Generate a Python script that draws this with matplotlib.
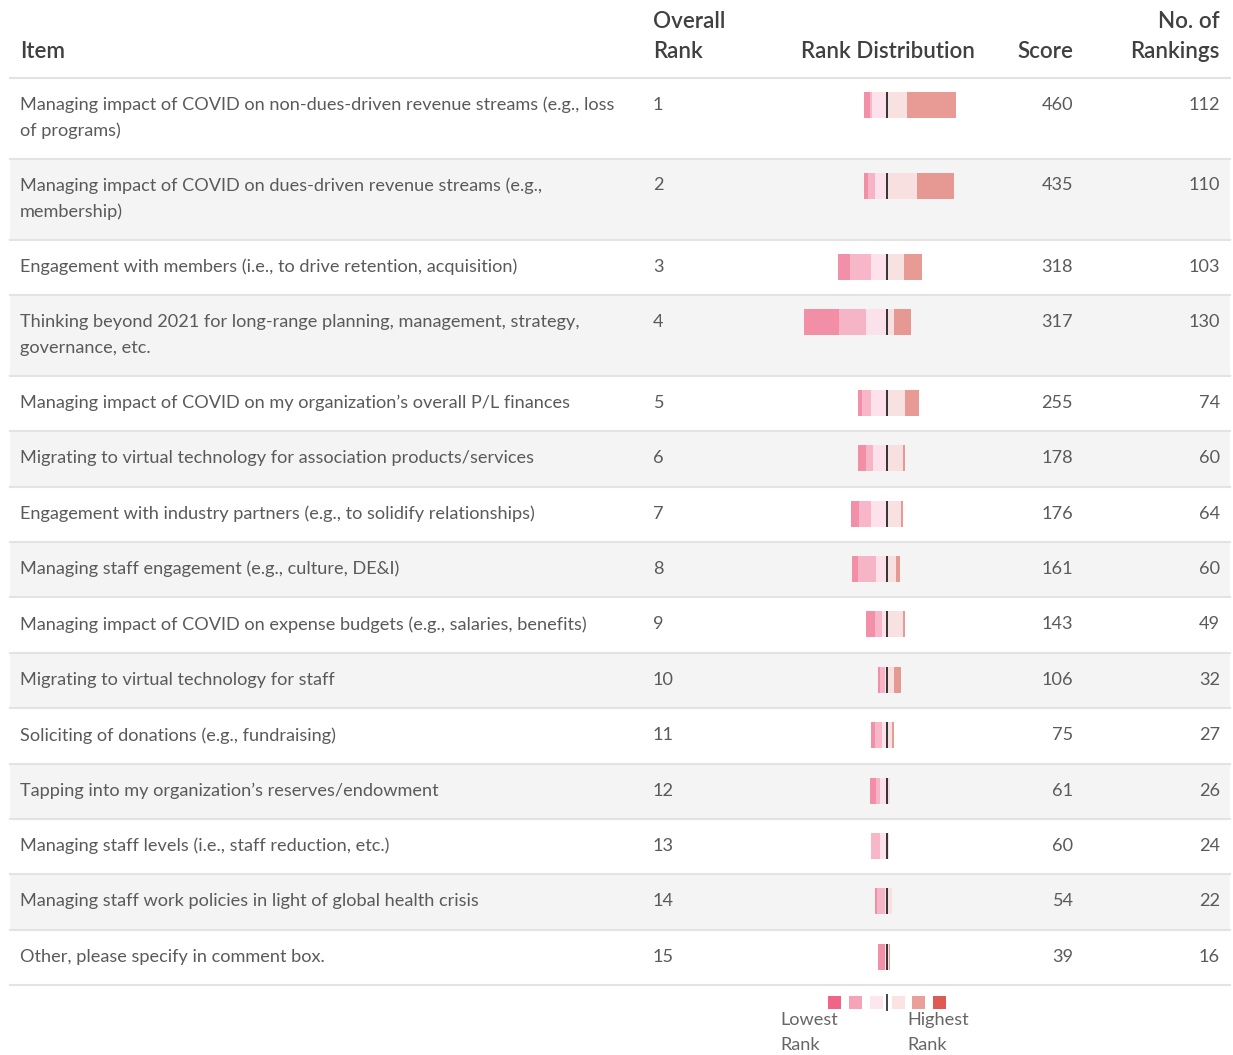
import numpy as np
import matplotlib.pyplot as plt
from matplotlib.patches import Rectangle

plt.rcParams['font.family'] = ['Lato', 'DejaVu Sans']

# Table data
items = ["Managing impact of COVID on non-dues-driven revenue streams (e.g., loss\nof programs)",
         "Managing impact of COVID on dues-driven revenue streams (e.g.,\nmembership)",
         "Engagement with members (i.e., to drive retention, acquisition)",
         "Thinking beyond 2021 for long-range planning, management, strategy,\ngovernance, etc.",
         "Managing impact of COVID on my organization\u2019s overall P/L finances",
         "Migrating to virtual technology for association products/services",
         "Engagement with industry partners (e.g., to solidify relationships)",
         "Managing staff engagement (e.g., culture, DE&I)",
         "Managing impact of COVID on expense budgets (e.g., salaries, benefits)",
         "Migrating to virtual technology for staff",
         "Soliciting of donations (e.g., fundraising)",
         "Tapping into my organization\u2019s reserves/endowment",
         "Managing staff levels (i.e., staff reduction, etc.)",
         "Managing staff work policies in light of global health crisis",
         "Other, please specify in comment box."]
overall_rank = list(range(1, 16))
score = [460, 435, 318, 317, 255, 178, 176, 161, 143, 106, 75, 61, 60, 54, 39]
n_rankings = [112, 110, 103, 130, 74, 60, 64, 60, 49, 32, 27, 26, 24, 22, 16]

# rank distribution, lowest -> highest (estimated counts)
lowest  = [7, 5, 15, 43, 5, 9, 10, 8, 11, 3, 5, 8, 0, 2, 9]
low     = [3, 8, 25, 33, 11, 9, 14, 22, 8, 5, 8, 5, 11, 9, 0]
midlow  = [18, 15, 20, 25, 19, 17, 20, 13, 6, 3, 6, 8, 8, 3, 2]
midhigh = [24, 37, 21, 9, 22, 19, 17, 11, 19, 9, 6, 4, 2, 6, 2]
high    = [60, 45, 22, 20, 17, 3, 2, 5, 3, 8, 2, 0, 0, 0, 2]
highest = [0] * 15

bar_colors = ['#f2819d', '#f6adc1', '#fddfe9', '#f8dedd', '#e58d86', '#d94a42']
key_colors = ['#f06487', '#f5a4b8', '#fde6ee', '#fbe3e3', '#eaa09a', '#de5a52']

W, H = 1233, 1055
fig = plt.figure(figsize=(W / 100, H / 100), dpi=100)
ax = fig.add_axes([0, 0, 1, 1])
ax.set_xlim(0, W)
ax.set_ylim(H, 0)
ax.axis('off')

txt = '#5a5a5a'
head = '#404040'
line_c = '#e3e3e3'
fs = 13.1
hfs = 16.1

# header
ax.text(20, 52, "Item", fontsize=hfs, color=head, va='center', weight='semibold')
ax.text(653, 22, "Overall", fontsize=hfs, color=head, va='center', weight='semibold')
ax.text(653, 52, "Rank", fontsize=hfs, color=head, va='center', weight='semibold')
ax.text(888, 52, "Rank Distribution", fontsize=hfs, color=head, va='center', ha='center', weight='semibold')
ax.text(1073, 52, "Score", fontsize=hfs, color=head, va='center', ha='right', weight='semibold')
ax.text(1220, 22, "No. of", fontsize=hfs, color=head, va='center', ha='right', weight='semibold')
ax.text(1220, 52, "Rankings", fontsize=hfs, color=head, va='center', ha='right', weight='semibold')
ax.plot([10, 1230], [77.5, 77.5], color=line_c, lw=1.5)

# rows
top = 77.5
row_y = []
for i, it in enumerate(items):
    lines = it.split('\n')
    h = 81 if len(lines) > 1 else 55.4
    if i % 2 == 1:
        ax.add_patch(Rectangle((10, top), 1220, h, color='#f4f4f4', lw=0, zorder=0))
    y0 = top + 27
    row_y.append(y0)
    for k, ln in enumerate(lines):
        ax.text(20, y0 + 26 * k, ln, fontsize=fs, color=txt, va='center')
    ax.text(653, y0, str(overall_rank[i]), fontsize=fs, color=txt, va='center')
    ax.text(1073, y0, str(score[i]), fontsize=fs, color=txt, va='center', ha='right')
    ax.text(1220, y0, str(n_rankings[i]), fontsize=fs, color=txt, va='center', ha='right')
    top += h
    ax.plot([10, 1230], [top, top], color=line_c, lw=1.5)

# diverging bars on their own axes, 0 at the centre line
px = 0.822
cx = 887
bx = fig.add_axes([0, 0, 1, 1])
bx.set_xlim(-cx / px, (W - cx) / px)
bx.set_ylim(H, 0)
bx.axis('off')
bx.patch.set_alpha(0)

row_y = np.array(row_y)
left = [lowest, low, midlow]
right = [midhigh, high, highest]
start = -(np.array(lowest) + np.array(low) + np.array(midlow))
for j, vals in enumerate(left):
    bx.barh(row_y, vals, left=start, height=26, color=bar_colors[j], alpha=0.88, lw=0)
    start = start + np.array(vals)
start = np.zeros(15)
for j, vals in enumerate(right):
    bx.barh(row_y, vals, left=start, height=26, color=bar_colors[3 + j], alpha=0.88, lw=0)
    start = start + np.array(vals)
bx.vlines(np.zeros(15), row_y - 13, row_y + 13, color='#333333', lw=1.4)

# legend key
kx = [828, 849, 870, 892, 912, 933]
for x, c in zip(kx, key_colors):
    ax.add_patch(Rectangle((x, 996), 13, 13, color=c, lw=0))
ax.plot([887, 887], [995, 1010], color='#444444', lw=1.4)
ax.text(780, 1020, "Lowest", fontsize=fs, color='#666666', va='center')
ax.text(780, 1045, "Rank", fontsize=fs, color='#666666', va='center')
ax.text(907, 1020, "Highest", fontsize=fs, color='#666666', va='center')
ax.text(907, 1045, "Rank", fontsize=fs, color='#666666', va='center')

fig.savefig('out.png', dpi=100)
